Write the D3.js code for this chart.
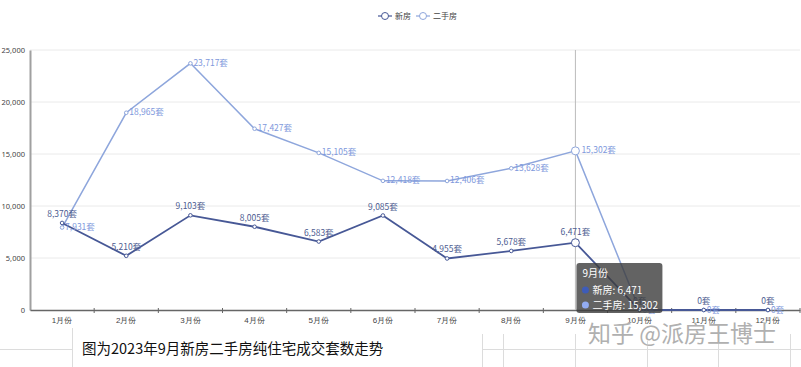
<!DOCTYPE html>
<html><head><meta charset="utf-8">
<script src="https://cdn.jsdelivr.net/npm/d3@7/dist/d3.min.js"></script>
<style>
html,body{margin:0;padding:0;background:#fff;}
svg{display:block;font-family:"Noto Sans CJK SC","Noto Sans",sans-serif;}
</style></head>
<body>
<svg id="chart" width="801" height="367"></svg>
<script>
const months = ["1月份","2月份","3月份","4月份","5月份","6月份","7月份","8月份","9月份","10月份","11月份","12月份"];
const newHomes = [8370,5210,9103,8005,6583,9085,4955,5678,6471,0,0,0];
const resale = [7931,18965,23717,17427,15105,12418,12406,13628,15302,0,0,0];
const yTicks = [0,5000,10000,15000,20000,25000];
const seriesNames = ["新房","二手房"];
const hoverIndex = 8;
const caption = "图为2023年9月新房二手房纯住宅成交套数走势";
const watermark = "知乎 @派房王博士";

const colNew = "#475896", colOld = "#8ea6dc";
const labNew = "#4d5c90", labOld = "#7e98dc";

const svg = d3.select("#chart");
const x = d3.scaleBand().domain(months).range([30, 800]);
const y = d3.scaleLinear().domain([0, 25000]).range([310, 50]);
const cx = m => x(m) + x.bandwidth() / 2;
const fmt = d3.format(",");

// gridlines
svg.append("g").selectAll("line").data(yTicks.filter(d => d > 0)).join("line")
  .attr("x1", 30).attr("x2", 800).attr("y1", d => y(d)).attr("y2", d => y(d))
  .attr("stroke", "#eaeaea").attr("stroke-width", 1);

// y axis
const ya = svg.append("g").attr("transform", "translate(30,0)")
  .call(d3.axisLeft(y).tickValues(yTicks).tickFormat(fmt).tickSize(0).tickPadding(5));
ya.select(".domain").attr("stroke", "#a0a0a0").attr("stroke-width", 2);
ya.selectAll("text").attr("font-size", 7.5).attr("fill", "#444").attr("font-family", "'Noto Sans','DejaVu Sans',sans-serif");

// x axis
const xa = svg.append("g").attr("transform", "translate(0,310)")
  .call(d3.axisBottom(x).tickSize(0).tickPadding(7));
xa.select(".domain").attr("stroke", "#666").attr("stroke-width", 1.5);
xa.selectAll("text").attr("font-size", 8).attr("fill", "#444");
svg.append("g").selectAll("line").data(months.map(m => x(m)).concat([800]).slice(1)).join("line")
  .attr("x1", d => d).attr("x2", d => d).attr("y1", 308).attr("y2", 313)
  .attr("stroke", "#666");

// crosshair
svg.append("line").attr("x1", cx(months[hoverIndex])).attr("x2", cx(months[hoverIndex]))
  .attr("y1", 50).attr("y2", 310).attr("stroke", "#bbb").attr("stroke-width", 1);

const line = d3.line().x((d, i) => cx(months[i])).y(d => y(d));
svg.append("path").datum(resale).attr("d", line).attr("fill", "none").attr("stroke", colOld).attr("stroke-width", 1.5);
svg.append("path").datum(newHomes).attr("d", line).attr("fill", "none").attr("stroke", colNew).attr("stroke-width", 1.8);

function markers(data, col) {
  svg.append("g").selectAll("circle").data(data).join("circle")
    .attr("cx", (d, i) => cx(months[i])).attr("cy", d => y(d))
    .attr("r", (d, i) => i === hoverIndex ? 4 : 1.8)
    .attr("fill", "#fff").attr("stroke", col).attr("stroke-width", 1);
}
markers(resale, colOld);
markers(newHomes, colNew);

// labels
svg.append("g").selectAll("text").data(newHomes).join("text")
  .attr("x", (d, i) => cx(months[i])).attr("y", (d, i) => y(d) - (i === hoverIndex ? 8 : 6))
  .attr("text-anchor", "middle").attr("font-size", 8.5).attr("fill", labNew)
  .text(d => fmt(d) + "套");
svg.append("g").selectAll("text").data(resale).join("text")
  .attr("x", (d, i) => cx(months[i]) + (i === hoverIndex ? 6 : 3)).attr("y", d => y(d) + 2.5)
  .attr("text-anchor", "start").attr("font-size", 8.5).attr("fill", labOld)
  .text(d => fmt(d) + "套");

// legend
const lg = svg.append("g").attr("transform", "translate(378,16)");
[colNew, colOld].forEach((c, i) => {
  const g = lg.append("g").attr("transform", `translate(${i === 0 ? 0 : 38},0)`);
  g.append("line").attr("x1", 0).attr("x2", 14).attr("y1", 0).attr("y2", 0).attr("stroke", c).attr("stroke-width", 1.2);
  g.append("circle").attr("cx", 7).attr("cy", 0).attr("r", 3.5).attr("fill", "#fff").attr("stroke", c);
  g.append("text").attr("x", 17).attr("y", 3).attr("font-size", 8).attr("fill", "#444").text(seriesNames[i]);
});

// tooltip
const tx = cx(months[hoverIndex]) + 1, ty = 263;
const tt = svg.append("g").attr("transform", `translate(${tx},${ty})`);
tt.append("rect").attr("width", 86).attr("height", 50).attr("rx", 3).attr("fill", "rgba(60,60,60,0.8)");
tt.append("text").attr("x", 6).attr("y", 14).attr("font-size", 10).attr("fill", "#fff").text(months[hoverIndex]);
[["#3e5cb8", seriesNames[0], newHomes[hoverIndex]], ["#93acf2", seriesNames[1], resale[hoverIndex]]].forEach((r, i) => {
  tt.append("circle").attr("cx", 9).attr("cy", 27 + i * 15).attr("r", 3.5).attr("fill", r[0]);
  tt.append("text").attr("x", 16).attr("y", 31 + i * 15).attr("font-size", 10).attr("fill", "#fff").text(r[1] + ": " + fmt(r[2]));
});

// background table remnants
const tl = svg.append("g").attr("stroke", "#dcdcdc").attr("stroke-width", 1);
tl.append("line").attr("x1", 0).attr("x2", 72).attr("y1", 349.5).attr("y2", 349.5);
tl.append("line").attr("x1", 482).attr("x2", 801).attr("y1", 349.5).attr("y2", 349.5);
tl.append("line").attr("x1", 72.5).attr("x2", 72.5).attr("y1", 328).attr("y2", 367);
[482.5, 503.5, 575.5, 647.5, 718.5, 790.5].forEach(v => tl.append("line").attr("x1", v).attr("x2", v).attr("y1", 334).attr("y2", 367));

// caption
svg.append("text").attr("x", 82).attr("y", 354).attr("font-size", 14.5).attr("fill", "#111").text(caption);

// watermark
svg.append("text").attr("x", 588).attr("y", 342).attr("font-size", 23).attr("fill", "#b0b0b0")
  .attr("stroke", "#fff").attr("stroke-width", 0.6).attr("paint-order", "stroke").text(watermark);
</script>
</body></html>
